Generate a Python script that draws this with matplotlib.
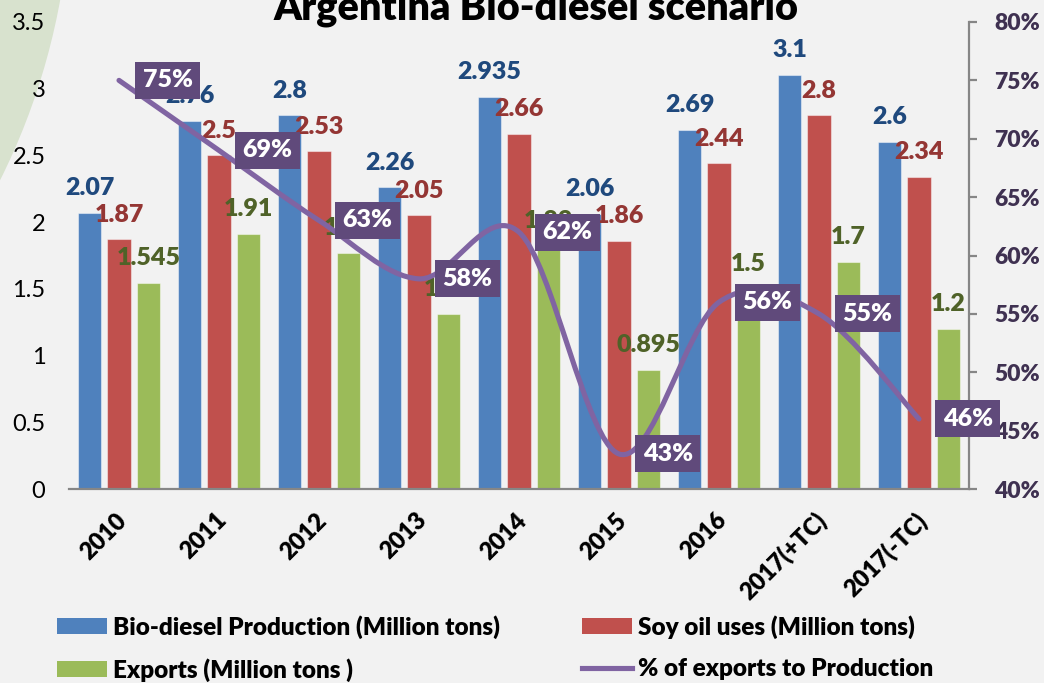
import matplotlib
matplotlib.use('Agg')
import numpy as np
import matplotlib.pyplot as plt
from matplotlib.patches import Ellipse, Patch, PathPatch
from matplotlib.path import Path
from matplotlib.lines import Line2D

plt.rcParams['font.family'] = ['Lato', 'DejaVu Sans']

years = ['2010', '2011', '2012', '2013', '2014', '2015', '2016', '2017(+TC)', '2017(-TC)']
production = [2.07, 2.76, 2.8, 2.26, 2.935, 2.06, 2.69, 3.1, 2.6]
soy_oil = [1.87, 2.5, 2.53, 2.05, 2.66, 1.86, 2.44, 2.8, 2.34]
exports = [1.545, 1.91, 1.77, 1.31, 1.82, 0.895, 1.5, 1.7, 1.2]
pct_exports = [75, 69, 63, 58, 62, 43, 56, 55, 46]
left_ticks = [0, 0.5, 1, 1.5, 2, 2.5, 3, 3.5]
right_ticks = [40, 45, 50, 55, 60, 65, 70, 75, 80]

bg = '#F2F2F2'
fig = plt.figure(figsize=(10.44, 6.83), dpi=100, facecolor=bg)

# decorative green arc in the top-left corner
W, H = 1044, 683
r = 671
fig.patches.append(Ellipse((-600 / W, (H + 120) / H), 2 * r / W, 2 * r / H,
                           transform=fig.transFigure, facecolor='#D8E2CE',
                           edgecolor='none', zorder=-5))

ax = fig.add_axes([69 / W, (H - 489) / H, 900 / W, 467 / H])
ax.set_facecolor('none')
x = np.arange(len(years))
w = 0.235
off = 0.295

series = [(production, '#4F81BD', '#1F497D', -off),
          (soy_oil, '#C0504D', '#943634', 0),
          (exports, '#9BBB59', '#4F6228', off)]
for vals, col, tcol, dx in series:
    bars = ax.bar(x + dx, vals, w, color=col, edgecolor=(1, 1, 1, 0.45), linewidth=0.8, zorder=2)
    for b, v in zip(bars, vals):
        ax.annotate(f'{v:g}', (b.get_x() + b.get_width() / 2, v), xytext=(0, 10),
                    textcoords='offset points', ha='center', va='bottom',
                    fontsize=18, fontweight='heavy', color=tcol, zorder=3)

ax.set_xlim(-0.5, len(years) - 0.5)
ax.set_ylim(0, 3.5)
ax.set_yticks(left_ticks, labels=[f'{v:g}' for v in left_ticks], fontsize=17)
ax.tick_params(axis='y', length=0, pad=17)
ax.set_xticks(x + 0.04, labels=years, rotation=45, ha='right', rotation_mode='anchor',
              fontsize=17, fontweight='heavy', va='center')
ax.tick_params(axis='x', length=0, pad=20)
for s in ['top', 'left', 'right']:
    ax.spines[s].set_visible(False)
ax.spines['bottom'].set_color('#868686')
ax.spines['bottom'].set_linewidth(1.6)

ax2 = ax.twinx()
ax2.set_ylim(0.40, 0.80)
ax2.set_yticks([t / 100 for t in right_ticks], labels=[f'{t}%' for t in right_ticks],
               fontsize=16.5, fontweight='heavy', color='#3F3151')
ax2.tick_params(axis='y', length=6, width=1.6, color='#868686', direction='out', pad=12)
for s in ['top', 'left', 'bottom']:
    ax2.spines[s].set_visible(False)
ax2.spines['right'].set_color('#868686')
ax2.spines['right'].set_linewidth(1.6)

# smoothed line (Catmull-Rom style bezier, like Excel's smoothed line)
py = np.array(pct_exports) / 100.0
pts = np.column_stack([x, py])
ext = np.vstack([pts[0], pts, pts[-1]])
verts = [tuple(pts[0])]
codes = [Path.MOVETO]
for i in range(len(pts) - 1):
    p0, p1, p2, p3 = ext[i], ext[i + 1], ext[i + 2], ext[i + 3]
    c1 = p1 + (p2 - p0) / 6.0
    c2 = p2 - (p3 - p1) / 6.0
    verts += [tuple(c1), tuple(c2), tuple(p2)]
    codes += [Path.CURVE4] * 3
ax2.add_patch(PathPatch(Path(verts, codes), facecolor='none', edgecolor='#8064A2',
                        linewidth=3.7, capstyle='round', zorder=3))

for xi, v in zip(x, pct_exports):
    ax2.annotate(f'{v}%', (xi, v / 100), xytext=(17, 0), textcoords='offset points',
                 ha='left', va='center', fontsize=18, fontweight='heavy', color='white',
                 bbox=dict(boxstyle='square,pad=0.3', facecolor='#604A7B', edgecolor='none'),
                 zorder=5, annotation_clip=False)

fig.text(0.513, 0.971, 'Argentina Bio-diesel scenario', ha='center', va='baseline',
         fontsize=28.5, fontweight='heavy', color='black')

leg_kw = dict(frameon=False, handlelength=2.06, handleheight=0.66,
              handletextpad=0.25, labelspacing=0.8, borderpad=0, borderaxespad=0,
              loc='upper left', prop={'weight': 'heavy', 'size': 17.5})
h_bio = Patch(facecolor='#4F81BD')
h_exp = Patch(facecolor='#9BBB59')
h_soy = Patch(facecolor='#C0504D')
h_pct = Line2D([], [], color='#8064A2', linewidth=3.7)
leg1 = fig.legend([h_bio, h_exp], ['Bio-diesel Production (Million tons)', 'Exports (Million tons )'],
                  bbox_to_anchor=(57 / W, (H - 615) / H), **leg_kw)
leg2 = fig.legend([h_soy, h_pct], ['Soy oil uses (Million tons)', '% of exports to Production'],
                  bbox_to_anchor=(582 / W, (H - 615) / H), **leg_kw)

fig.savefig('out.png', dpi=100, facecolor=bg)
